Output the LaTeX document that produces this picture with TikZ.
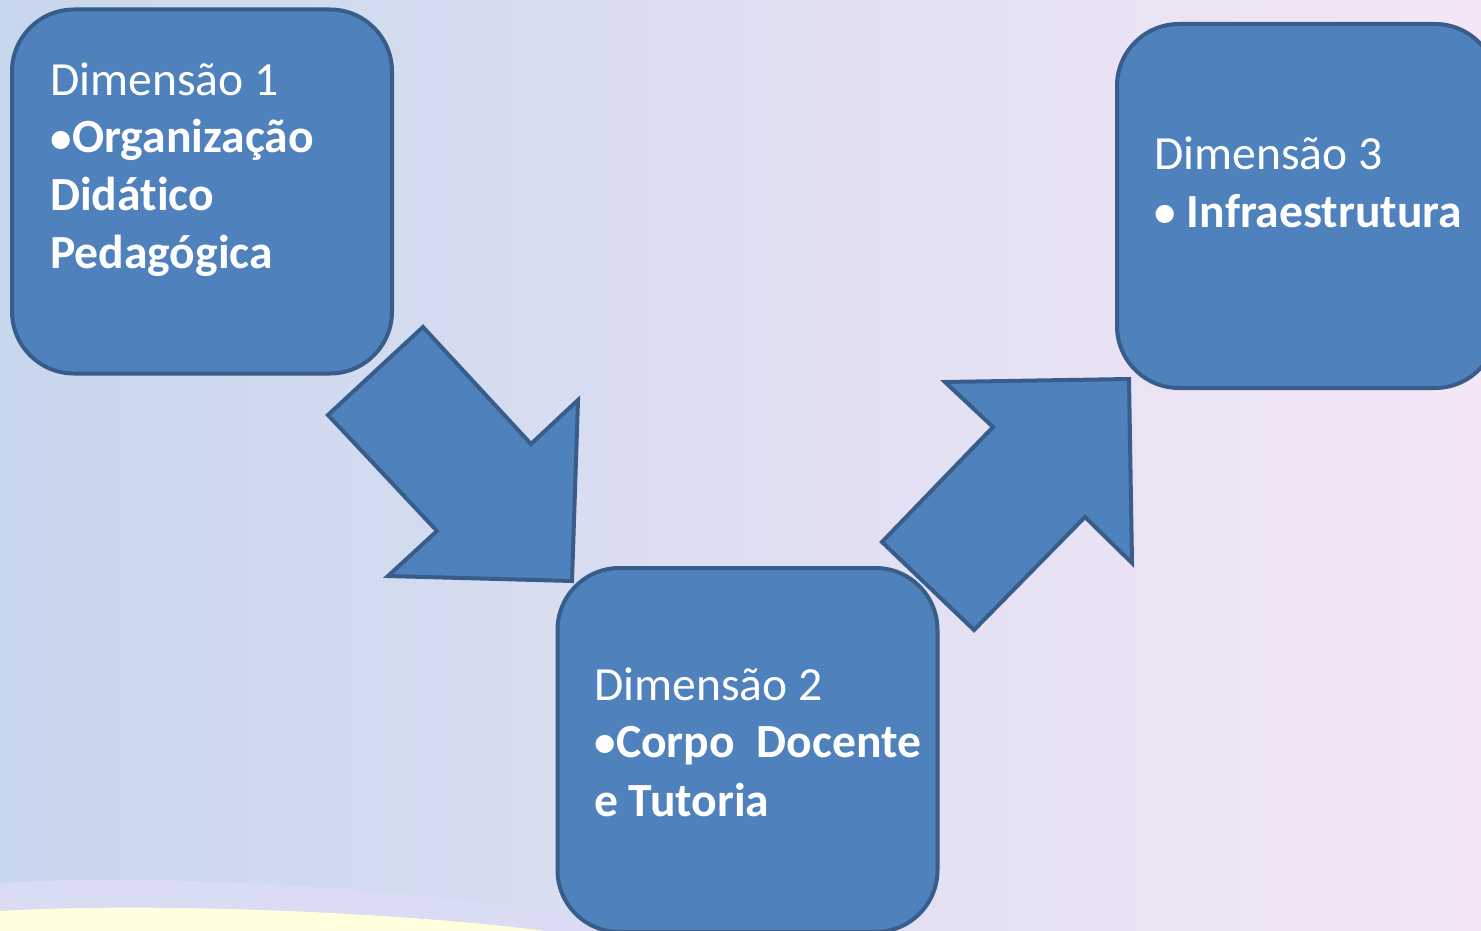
\documentclass[tikz,border=0pt]{standalone}
\usepackage{fontspec}
\setmainfont{Carlito}[Ligatures={NoCommon}]
\definecolor{bgL}{RGB}{199,215,237}
\definecolor{bgR}{RGB}{244,230,246}
\definecolor{bandC}{RGB}{218,220,243}
\definecolor{yelC}{RGB}{255,255,222}
\definecolor{boxF}{RGB}{79,129,189}
\definecolor{boxD}{RGB}{56,93,138}
\newcommand{\smbul}{\makebox[22pt][l]{\fontsize{43}{58}\selectfont\raisebox{0.5pt}{•}}}
\tikzset{
  dimbox/.style={draw=boxD, fill=boxF, line width=4pt, rounded corners=62pt,
    minimum width=380pt, minimum height=364pt, inner sep=0pt},
  blockarrow/.style={draw=boxD, fill=boxF, line width=4pt, line join=miter},
  ltxt/.style={text=white, anchor=base west, inner sep=0pt, font=\fontsize{47.6}{58}\selectfont},
  btxt/.style={ltxt, font=\fontsize{47.6}{58}\selectfont\bfseries},
}
\begin{document}
\begin{tikzpicture}[x=1pt,y=-1pt]
\useasboundingbox (0,0) rectangle (1481,931);
\clip (0,0) rectangle (1481,931);
\shade[left color=bgL, right color=bgR] (0,0) rectangle (1481,931);
\fill[bandC] (0,883) .. controls (150,874) and (380,884) .. (600,918) -- (600,931) -- (0,931) -- cycle;
\fill[yelC] (0,911) .. controls (150,902) and (400,912) .. (545,931) -- (0,931) -- cycle;
% arrows
\draw[blockarrow] (423,327) -- (328,415) -- (437,531) -- (388,576) -- (572,581) -- (578,400) -- (531,444) -- cycle;
\draw[blockarrow] (945,382) -- (993,427) -- (882,542) -- (974,630) -- (1085,517) -- (1132,563) -- (1129,379) -- cycle;
% boxes
\node[dimbox] (b1) at (202,191.5) {};
\node[dimbox] (b2) at (747.5,750) {};
\node[dimbox] (b3) at (1307,206) {};
% texts
\node[ltxt] (t11) at (50,96) {Dimensão 1};
\node[btxt] (t12) at (50,153) {\smbul Organização};
\node[btxt] (t13) at (50,210) {Didático};
\node[btxt] (t14) at (50,268) {Pedagógica};
\node[ltxt] (t21) at (594,700) {Dimensão 2};
\node[btxt] (t22) at (594,757) {\smbul Corpo\ \ Docente};
\node[btxt] (t23) at (594,816) {e Tutoria};
\node[ltxt] (t31) at (1154,169) {Dimensão 3};
\node[btxt] (t32) at (1154,227) {\smbul\ Infraestrutura};
\end{tikzpicture}
\end{document}
